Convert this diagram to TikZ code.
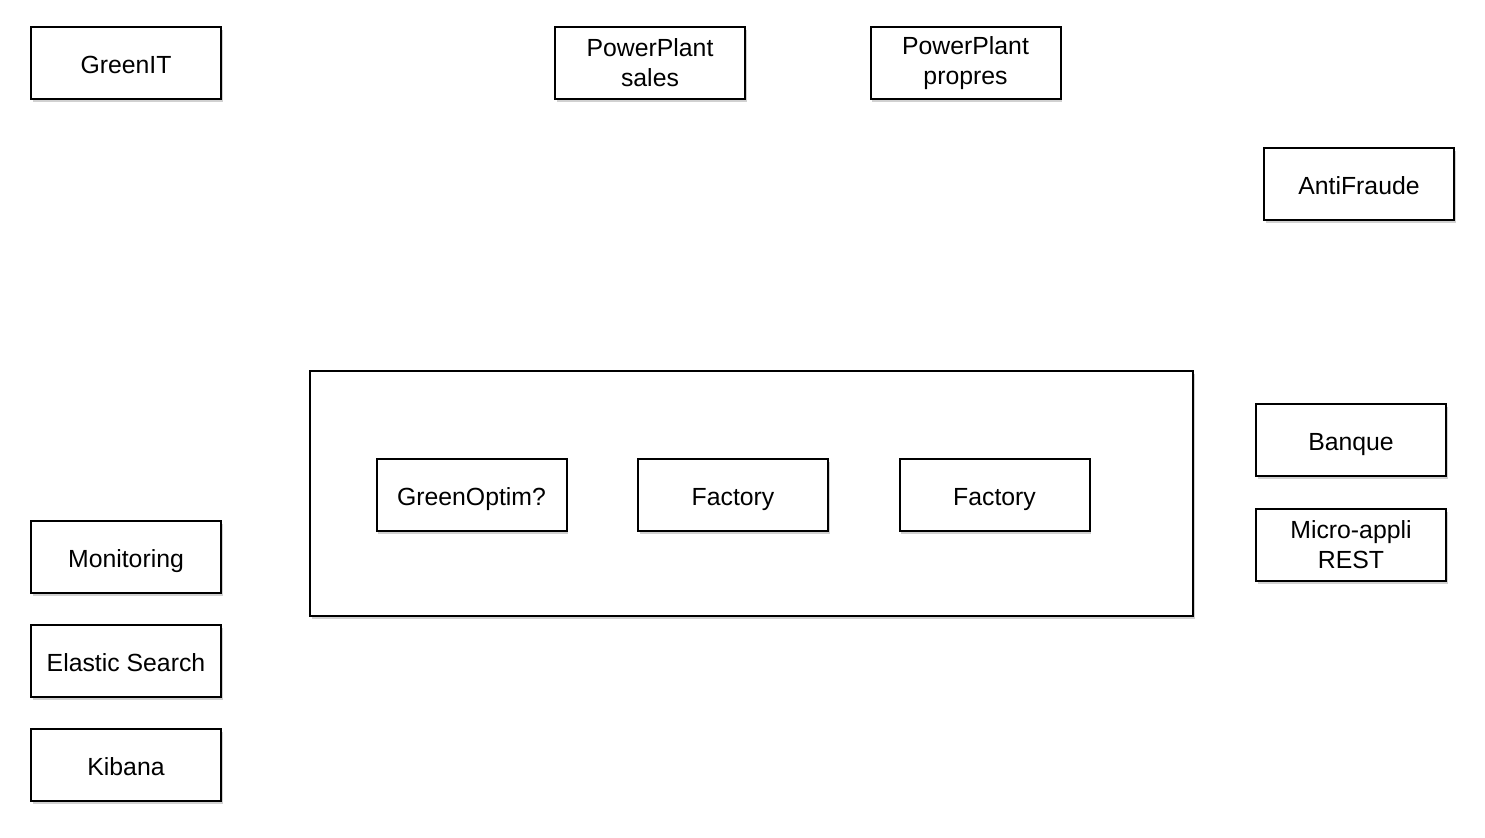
\documentclass[tikz,border=0pt]{standalone}
\usepackage{fontspec}
\setmainfont{Liberation Sans}
\usetikzlibrary{shadows}

\tikzset{
  appbox/.style={draw=black,line width=1pt,fill=white,minimum width=95pt,minimum height=36pt,
    inner sep=0pt,align=center,font=\fontsize{12.4}{15}\selectfont,
    text height=10.3pt,text depth=0pt,
    drop shadow={shadow xshift=0.8pt,shadow yshift=-1.5pt,opacity=0.3,fill=black!60}},
  twoline/.style={text height=,text depth=},
}

\begin{document}
\begin{tikzpicture}[x=0.5pt,y=-0.5pt]
  \useasboundingbox (0,0) rectangle (1485,837);

  % top row
  \node[appbox] (greenit) at (126,63) {GreenIT};
  \node[appbox,twoline] (ppsales) at (650,63) {PowerPlant\\sales};
  \node[appbox,twoline] (pppropres) at (965.5,63) {PowerPlant\\propres};
  \node[appbox] (antifraude) at (1359,184) {AntiFraude};

  % container
  \node[draw=black,line width=1pt,fill=white,minimum width=441.5pt,minimum height=122.5pt,inner sep=0pt,
    drop shadow={shadow xshift=0.8pt,shadow yshift=-1.5pt,opacity=0.3,fill=black!60}]
    (conteneur) at (751.5,493.5) {};
  \foreach \x/\n/\t in {471.5/greenoptim/GreenOptim?, 733/factoryA/Factory, 994.5/factoryB/Factory}
    \node[appbox] (\n) at (\x,495) {\t};

  % right column
  \node[appbox] (banque) at (1351,440) {Banque};
  \node[appbox,twoline] (microappli) at (1351,545) {Micro-appli\\REST};

  % left column
  \foreach \y/\n/\t in {557/monitoring/Monitoring, 661/elastic/Elastic Search, 765/kibana/Kibana}
    \node[appbox] (\n) at (126,\y) {\t};
\end{tikzpicture}
\end{document}
